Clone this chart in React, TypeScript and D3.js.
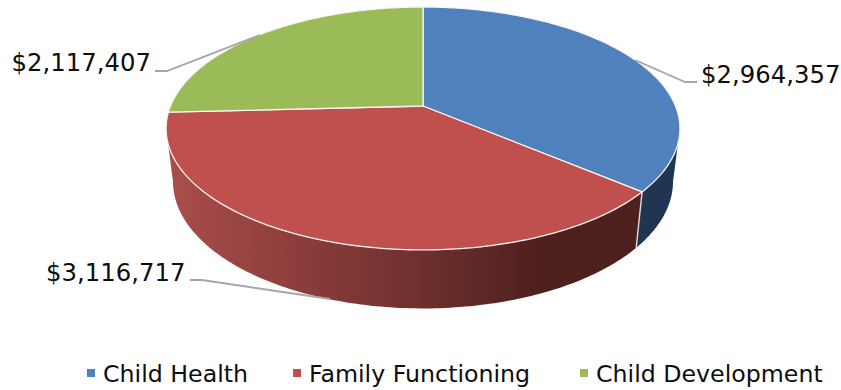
import React from "react";
import * as d3 from "d3";

const categories = ["Child Health", "Family Functioning", "Child Development"];
const amounts = [2964357, 3116717, 2117407];
const faceColors = ["#4f81bd", "#c0504d", "#9bbb59"];
const legendX = [87, 293, 580];

// Leader lines run from the value label to the slice rim.
const leaderLines: [number, number][][] = [
  [[697, 82], [685, 82], [635, 60]],
  [[190, 280], [202, 280], [330, 299]],
  [[155, 71], [167, 71], [260, 35]],
];
const labelAnchors: { x: number; y: number; anchor: "start" | "end" }[] = [
  { x: 701, y: 83, anchor: "start" },
  { x: 185.5, y: 281, anchor: "end" },
  { x: 151, y: 71, anchor: "end" },
];

const W = 841;
const H = 390;
const CX = 423;
const TILT = 0.185;

// Perspective view of a disc: near points are magnified by 1 / (1 - TILT * v).
function discProjection(apexY: number, a: number, b: number) {
  return (theta: number): [number, number] => {
    const u = Math.sin(theta);
    const v = -Math.cos(theta);
    const w = 1 - TILT * v;
    return [CX + (a * u) / w, apexY + (b * v) / w];
  };
}

const topRim = discProjection(106, 252.5, 117.3);
const bottomRim = discProjection(158, 245.7, 122.6);

const pieLayout = d3.pie<number>().sort(null).value((d) => d);
const arcs = pieLayout(amounts);
const formatMoney = d3.format("$,");
const outline = d3.line<[number, number]>();

// Angles where the rim reaches its widest point; the wall faces the viewer between them.
const wallFrom = Math.acos(-TILT);
const wallTo = 2 * Math.PI - wallFrom;

function sweep(start: number, end: number): number[] {
  const n = Math.max(2, Math.ceil((end - start) * 60));
  return d3.range(n + 1).map((i) => start + ((end - start) * i) / n);
}

function facePath(start: number, end: number): string {
  const pts = sweep(start, end).map(topRim);
  return outline([[CX, 106], ...pts]) + "Z";
}

function wallPath(start: number, end: number): string {
  const angles = sweep(Math.max(start, wallFrom), Math.min(end, wallTo));
  return outline([...angles.map(topRim), ...angles.slice().reverse().map(bottomRim)]) + "Z";
}

const wallFills = ["#1f3552", "url(#familyWall)", "#6d8339"];
const visibleWalls = arcs
  .map((a, i) => ({ a, i }))
  .filter(({ a }) => Math.max(a.startAngle, wallFrom) < Math.min(a.endAngle, wallTo));
const seams = arcs.map((a) => a.startAngle).filter((t) => t > wallFrom && t < wallTo);

export default function App() {
  return (
    <svg
      width={W}
      height={H}
      viewBox={`0 0 ${W} ${H}`}
      style={{ position: "absolute", left: 0, top: 0, background: "#fff" }}
      fontFamily="'DejaVu Sans', Verdana, sans-serif"
    >
      <defs>
        <linearGradient id="familyWall" gradientUnits="userSpaceOnUse" x1={166} x2={640} y1={0} y2={0}>
          <stop offset="0" stopColor="#aa4e4b" />
          <stop offset="0.3" stopColor="#8a3c3a" />
          <stop offset="0.55" stopColor="#6c2f2d" />
          <stop offset="0.8" stopColor="#4d1f1d" />
          <stop offset="1" stopColor="#4d1f1d" />
        </linearGradient>
      </defs>

      {visibleWalls.map(({ a, i }) => (
        <path key={`wall-${i}`} d={wallPath(a.startAngle, a.endAngle)} fill={wallFills[i]} />
      ))}

      {seams.map((t) => (
        <path
          key={`seam-${t}`}
          d={outline([topRim(t), bottomRim(t)]) as string}
          stroke="#dcdcdc"
          strokeWidth={1.4}
          fill="none"
        />
      ))}

      {arcs.map((a, i) => (
        <path
          key={`face-${i}`}
          d={facePath(a.startAngle, a.endAngle)}
          fill={faceColors[i]}
          stroke="#f8f4f2"
          strokeWidth={1.3}
          strokeLinejoin="round"
        />
      ))}

      {leaderLines.map((pts, i) => (
        <path
          key={`leader-${i}`}
          d={outline(pts) as string}
          fill="none"
          stroke="#a6a6a6"
          strokeWidth={1.8}
        />
      ))}

      {amounts.map((v, i) => (
        <text
          key={`label-${i}`}
          x={labelAnchors[i].x}
          y={labelAnchors[i].y}
          textAnchor={labelAnchors[i].anchor}
          fontSize={24.35}
          fill="#0d0d0d"
        >
          {formatMoney(v)}
        </text>
      ))}

      {categories.map((name, i) => (
        <g key={name}>
          <rect x={legendX[i]} y={369} width={8} height={8} fill={faceColors[i]} />
          <text x={legendX[i] + 16} y={382} fontSize={23.7} fill="#0d0d0d">
            {name}
          </text>
        </g>
      ))}
    </svg>
  );
}
